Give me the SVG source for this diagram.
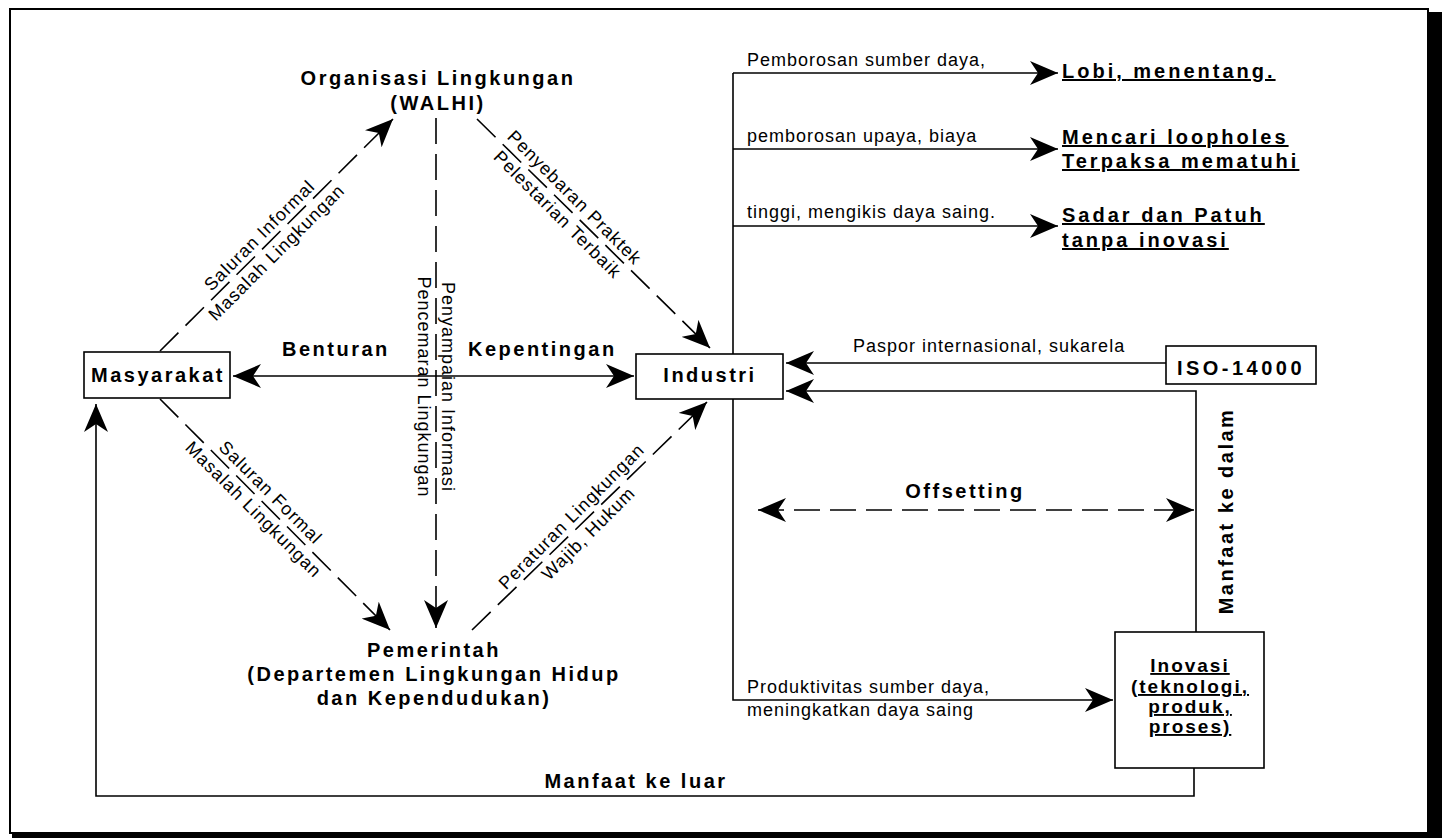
<svg xmlns="http://www.w3.org/2000/svg" width="1447" height="838" viewBox="0 0 1447 838">
<style>
.t{font-family:"Liberation Sans",Arial,sans-serif;font-weight:bold;font-size:20px;letter-spacing:2.5px;fill:#000}
.r{font-family:"Liberation Sans",Arial,sans-serif;font-weight:bold;font-size:20px;letter-spacing:3px;fill:#000;text-decoration:underline}
.l{font-family:"Liberation Sans",Arial,sans-serif;font-size:18px;letter-spacing:1px;fill:#000}
.box{fill:#fff;stroke:#000;stroke-width:1.6}
.ln{fill:none;stroke:#000;stroke-width:1.6}
.ds{fill:none;stroke:#000;stroke-width:1.6;stroke-dasharray:26 10}
.m{text-anchor:middle}
</style>
<defs>
<marker id="ah" viewBox="0 0 28 24" refX="28" refY="12" markerWidth="28" markerHeight="24" markerUnits="userSpaceOnUse" orient="auto-start-reverse">
<path d="M0,0 L28,12 L0,24 L8,12 Z" fill="#000"/>
</marker>
</defs>
<rect x="0" y="0" width="1447" height="838" fill="#fff"/>
<g id="frame">
<rect x="10" y="9" width="1418" height="824" fill="none" stroke="#000" stroke-width="2"/>
<rect x="1427" y="12" width="15" height="826" fill="#000"/>
<rect x="12" y="832" width="1430" height="6" fill="#000"/>
</g>
<g id="connectors">
<path class="ln" d="M233,376 L634,376" marker-start="url(#ah)" marker-end="url(#ah)"/>
<path class="ds" d="M160,351 L393,119" marker-end="url(#ah)"/>
<path class="ds" d="M477,119 L710,348" marker-end="url(#ah)"/>
<path class="ds" d="M160,399 L390,630" marker-end="url(#ah)"/>
<path class="ds" d="M472,630 L707,402" marker-end="url(#ah)"/>
<path class="ds" d="M436,118 L436,628" marker-end="url(#ah)"/>
<path class="ln" d="M733,354 L733,73"/>
<path class="ln" d="M733,73 L1058,73" marker-end="url(#ah)"/>
<path class="ln" d="M733,149 L1058,149" marker-end="url(#ah)"/>
<path class="ln" d="M733,226 L1058,226" marker-end="url(#ah)"/>
<path class="ln" d="M733,399 L733,700 L1113,700" marker-end="url(#ah)"/>
<path class="ln" d="M1166,363 L786,363" marker-end="url(#ah)"/>
<path class="ln" d="M1196,632 L1196,391 L786,391" marker-end="url(#ah)"/>
<path class="ds" d="M758,510 L1194,510" marker-start="url(#ah)" marker-end="url(#ah)"/>
<path class="ln" d="M1194,768 L1194,796 L96,796 L96,404" marker-end="url(#ah)"/>
</g>
<g id="labels">
<text class="t" x="282" y="356">Benturan</text>
<text class="t" x="468" y="356">Kepentingan</text>
<g transform="translate(268,244) rotate(-45)">
<text class="l m" y="-6">Saluran Informal</text>
<text class="l m" y="18">Masalah Lingkungan</text>
</g>
<g transform="translate(566,206) rotate(45)">
<text class="l m" y="-6">Penyebaran Praktek</text>
<text class="l m" y="18">Pelestarian Terbaik</text>
</g>
<g transform="translate(262,501) rotate(45)">
<text class="l m" y="-6">Saluran Formal</text>
<text class="l m" y="18">Masalah Lingkungan</text>
</g>
<g transform="translate(580,525) rotate(-45)">
<text class="l m" y="-6">Peraturan Lingkungan</text>
<text class="l m" y="18">Wajib, Hukum</text>
</g>
<g transform="translate(436,387) rotate(90)">
<text class="l m" y="-6">Penyampaian Informasi</text>
<text class="l m" y="18">Pencemaran Lingkungan</text>
</g>
<text class="l" x="747" y="66">Pemborosan sumber daya,</text>
<text class="l" x="747" y="142">pemborosan upaya, biaya</text>
<text class="l" x="747" y="218">tinggi, mengikis daya saing.</text>
<text class="l" x="853" y="352">Paspor internasional, sukarela</text>
<text class="l" x="747" y="693">Produktivitas sumber daya,</text>
<text class="l" x="747" y="716">meningkatkan daya saing</text>
<text class="t m" x="965" y="498">Offsetting</text>
<text class="t m" x="636" y="788">Manfaat ke luar</text>
<text class="t m" transform="translate(1233,511) rotate(-90)">Manfaat ke dalam</text>
</g>
<g id="organisasi">
<text class="t m" x="438" y="85">Organisasi Lingkungan</text>
<text class="t m" x="438" y="110">(WALHI)</text>
</g>
<g id="masyarakat">
<rect class="box" x="84" y="352" width="146" height="46"/>
<text class="t m" x="158" y="382">Masyarakat</text>
</g>
<g id="industri">
<rect class="box" x="636" y="354" width="147" height="45"/>
<text class="t m" x="710" y="382">Industri</text>
</g>
<g id="pemerintah">
<text class="t m" x="434" y="657">Pemerintah</text>
<text class="t m" x="434" y="681">(Departemen Lingkungan Hidup</text>
<text class="t m" x="434" y="705">dan Kependudukan)</text>
</g>
<g id="iso">
<rect class="box" x="1166" y="346" width="150" height="38"/>
<text class="t m" x="1241" y="375" style="letter-spacing:3.5px">ISO-14000</text>
</g>
<g id="inovasi">
<rect class="box" x="1115" y="632" width="149" height="136"/>
<text class="r m" x="1190" y="672" style="font-size:19px;letter-spacing:2px">Inovasi</text>
<text class="r m" x="1190" y="693" style="font-size:19px;letter-spacing:2px">(teknologi,</text>
<text class="r m" x="1190" y="713" style="font-size:19px;letter-spacing:2px">produk,</text>
<text class="r m" x="1190" y="733" style="font-size:19px;letter-spacing:2px">proses)</text>
</g>
<g id="responses">
<text class="r" x="1062" y="78">Lobi, menentang.</text>
<text class="r" x="1062" y="144">Mencari loopholes</text>
<text class="r" x="1062" y="168">Terpaksa mematuhi</text>
<text class="r" x="1062" y="222">Sadar dan Patuh</text>
<text class="r" x="1062" y="247">tanpa inovasi</text>
</g>
</svg>
